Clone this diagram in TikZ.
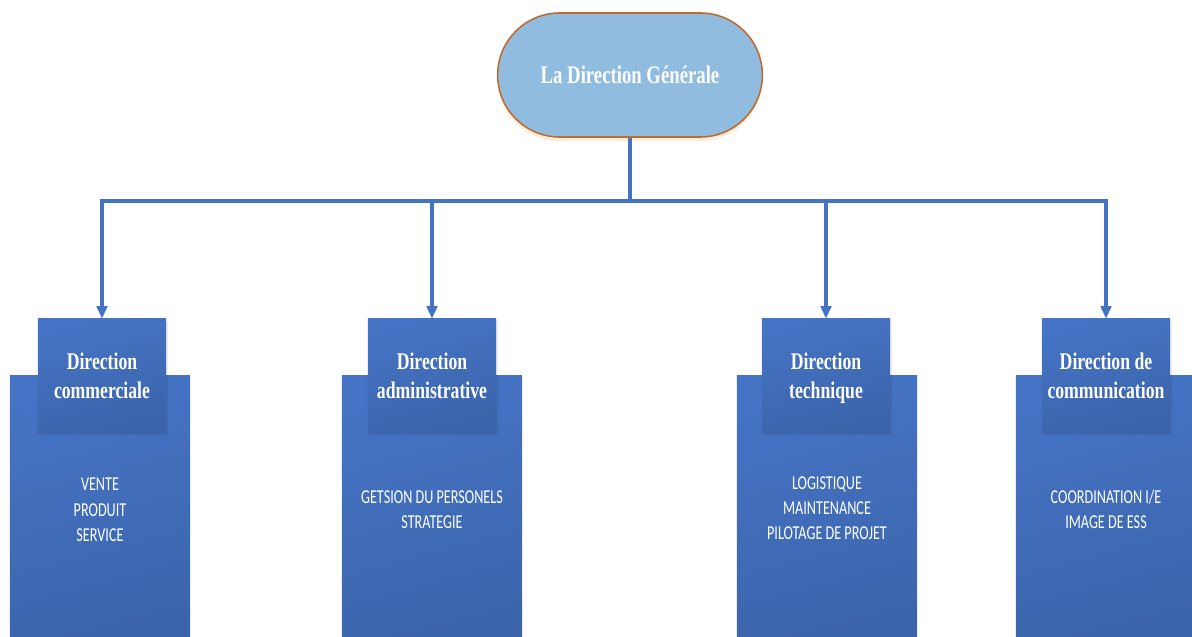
\documentclass[tikz,border=0pt]{standalone}
\usepackage{fontspec}
\newfontfamily\headfont[FakeStretch=0.74]{Liberation Serif}
\newfontfamily\bodyfont[FakeStretch=0.72]{Carlito}
\usetikzlibrary{positioning}
\usetikzlibrary{shapes.misc}
\usetikzlibrary{arrows.meta}
\usetikzlibrary{shadows}
\definecolor{linkblue}{HTML}{4472C4}
\definecolor{boxtop}{HTML}{4573C5}
\definecolor{boxbot}{HTML}{3B64AA}
\definecolor{topfill}{HTML}{90BCE0}
\definecolor{topline}{HTML}{C06A2E}

\begin{document}
\begin{tikzpicture}[x=0.025cm,y=-0.025cm,
	link/.style={draw=linkblue, line width=2.6pt},
	tip/.style={-{Triangle[length=9pt,width=7.5pt]}},
	titlebox/.style={rounded rectangle, minimum width=6.85cm, minimum height=3.1cm, fill=topfill, draw=topline, line width=1.1pt,
		drop shadow={shadow xshift=0pt, shadow yshift=-3pt, fill=orange!50, opacity=.3},
		text=white, font=\headfont\bfseries\fontsize{18}{21}\selectfont},
	bigbox/.style={rectangle, minimum width=4.5cm, minimum height=7cm, inner sep=0pt, top color=boxtop, bottom color=boxbot, shading angle=15},
	headbox/.style={rectangle, minimum width=3.2cm, minimum height=2.85cm, inner sep=0pt, top color=boxtop, bottom color=boxbot, shading angle=15,
		drop shadow={shadow xshift=1.5pt, shadow yshift=-1.5pt, fill=black, opacity=.07},
		align=center, text depth=0pt, text=white, font=\headfont\bfseries\fontsize{17}{20.6}\selectfont},
	bodytext/.style={align=center, text=white, font=\bodyfont\fontsize{14}{18}\selectfont}]
	\useasboundingbox (0,0) rectangle (1192,637);
	
	\node[titlebox] (dg) at (630,75) {La Direction Générale};
	
	\node[bigbox] (b1) at (100,516) {};
	\node[bigbox] (b2) at (432,516) {};
	\node[bigbox] (b3) at (827,516) {};
	\node[bigbox] (b4) at (1106,516) {};
	
	\node[headbox] (h1) at (102,376) {Direction\\commerciale};
	\node[headbox] (h2) at (432,376) {Direction\\administrative};
	\node[headbox] (h3) at (826,376) {Direction\\technique};
	\node[headbox] (h4) at (1106,376) {Direction de\\communication};
	
	\node[bodytext] (t1) at (100,510) {VENTE\\PRODUIT\\SERVICE};
	\node[bodytext] (t2) at (432,510) {GETSION DU PERSONELS\\STRATEGIE};
	\node[bodytext] (t3) at (827,508) {LOGISTIQUE\\MAINTENANCE\\PILOTAGE DE PROJET};
	\node[bodytext] (t4) at (1106,509) {COORDINATION I/E\\IMAGE DE ESS};
	
	\coordinate (hub) at (630,201);
	\draw[link] (dg.south) -- (hub);
	\draw[link, tip] (hub) -| (h1.north);
	\draw[link, tip] (hub) -| (h2.north);
	\draw[link, tip] (hub) -| (h3.north);
	\draw[link, tip] (hub) -| (h4.north);
\end{tikzpicture}
\end{document}
